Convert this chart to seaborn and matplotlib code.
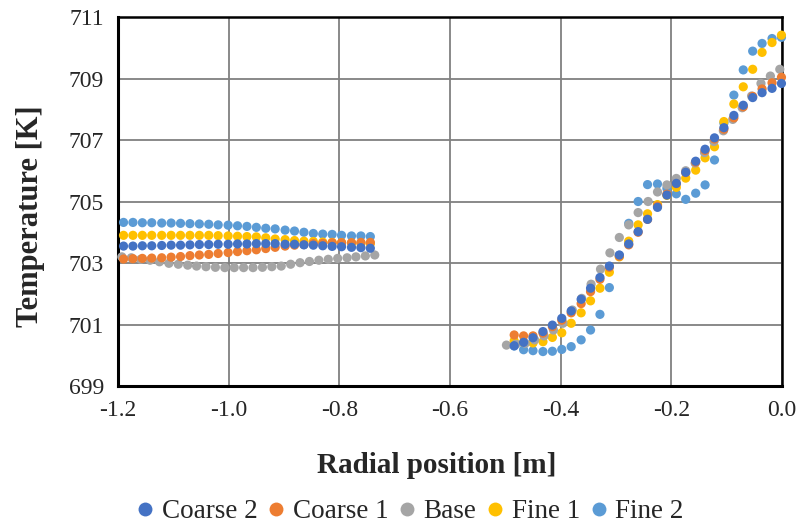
"""
Radial temperature profile for five mesh resolutions - scatter plot
"""
import pandas as pd
import matplotlib.pyplot as plt
from matplotlib.lines import Line2D
import seaborn as sns

series_names = ["Coarse 2", "Coarse 1", "Base", "Fine 1", "Fine 2"]
colors = ["#4472C4", "#ED7D31", "#A5A5A5", "#FFC000", "#5B9BD5"]

# radial positions [m] (Base mesh is sampled at slightly different points)
x_left = [-1.190, -1.173, -1.156, -1.139, -1.121, -1.104, -1.087, -1.070, -1.053,
          -1.036, -1.019, -1.001, -0.984, -0.967, -0.950, -0.933, -0.916, -0.898,
          -0.881, -0.864, -0.847, -0.830, -0.813, -0.796, -0.778, -0.761, -0.744]
x_left_base = [-1.193, -1.176, -1.159, -1.142, -1.125, -1.108, -1.091, -1.074, -1.058,
               -1.041, -1.024, -1.007, -0.990, -0.973, -0.956, -0.939, -0.922, -0.905,
               -0.888, -0.871, -0.854, -0.837, -0.820, -0.803, -0.786, -0.770, -0.753,
               -0.736]
x_right = [-0.484, -0.467, -0.450, -0.432, -0.415, -0.398, -0.381, -0.363, -0.346,
           -0.329, -0.312, -0.294, -0.277, -0.260, -0.243, -0.225, -0.208, -0.191,
           -0.174, -0.156, -0.139, -0.122, -0.105, -0.087, -0.070, -0.053, -0.036,
           -0.018, -0.001]
x_right_base = [-0.498, -0.481, -0.464, -0.447, -0.430, -0.413, -0.396, -0.379, -0.362,
                -0.345, -0.328, -0.311, -0.294, -0.277, -0.260, -0.242, -0.225, -0.208,
                -0.191, -0.174, -0.157, -0.140, -0.123, -0.106, -0.089, -0.072, -0.055,
                -0.038, -0.021, -0.004]

# temperatures [K]
coarse2_left = [703.55, 703.55, 703.56, 703.56, 703.57, 703.58, 703.58, 703.59, 703.60,
                703.60, 703.61, 703.61, 703.62, 703.62, 703.63, 703.63, 703.63, 703.61,
                703.61, 703.59, 703.58, 703.56, 703.54, 703.53, 703.51, 703.50, 703.48]
coarse2_right = [700.31, 700.42, 700.57, 700.77, 700.98, 701.20, 701.44, 701.82, 702.18,
                 702.53, 702.90, 703.26, 703.62, 704.02, 704.42, 704.81, 705.21, 705.59,
                 705.95, 706.31, 706.70, 707.07, 707.40, 707.80, 708.13, 708.38, 708.54,
                 708.68, 708.84]

coarse1_left = [703.13, 703.14, 703.15, 703.16, 703.17, 703.19, 703.21, 703.24, 703.26,
                703.28, 703.31, 703.34, 703.37, 703.40, 703.43, 703.47, 703.51, 703.55,
                703.58, 703.60, 703.63, 703.64, 703.66, 703.66, 703.66, 703.67, 703.67]
coarse1_right = [700.66, 700.63, 700.63, 700.72, 700.93, 701.14, 701.38, 701.68, 702.07,
                 702.47, 702.86, 703.22, 703.59, 704.00, 704.42, 704.85, 705.24, 705.58,
                 705.94, 706.28, 706.66, 707.03, 707.35, 707.72, 708.08, 708.42, 708.66,
                 708.86, 709.04]

base_left = [703.20, 703.17, 703.12, 703.09, 703.04, 702.99, 702.96, 702.93, 702.90,
             702.88, 702.86, 702.85, 702.85, 702.85, 702.85, 702.86, 702.88, 702.90,
             702.96, 703.01, 703.05, 703.09, 703.12, 703.15, 703.17, 703.20, 703.23,
             703.26]
base_right = [700.33, 700.36, 700.39, 700.50, 700.63, 700.82, 701.04, 701.47, 701.85,
              702.31, 702.80, 703.33, 703.83, 704.24, 704.64, 705.00, 705.31, 705.54,
              705.75, 706.00, 706.25, 706.59, 706.95, 707.30, 707.67, 708.05, 708.43,
              708.84, 709.08, 709.30]

fine1_left = [703.90, 703.90, 703.90, 703.90, 703.90, 703.90, 703.90, 703.90, 703.90,
              703.90, 703.89, 703.88, 703.87, 703.86, 703.85, 703.82, 703.78, 703.76,
              703.73, 703.71, 703.70, 703.68, 703.67, 703.66, 703.65, 703.64, 703.63]
fine1_right = [700.47, 700.42, 700.40, 700.44, 700.58, 700.73, 701.04, 701.38, 701.77,
               702.18, 702.70, 703.20, 703.71, 704.24, 704.60, 704.90, 705.20, 705.46,
               705.76, 706.02, 706.42, 706.78, 707.60, 708.17, 708.73, 709.30, 709.85,
               710.17, 710.41]

fine2_left = [704.32, 704.32, 704.31, 704.31, 704.30, 704.30, 704.29, 704.28, 704.27,
              704.26, 704.24, 704.23, 704.21, 704.19, 704.16, 704.13, 704.11, 704.07,
              704.04, 704.00, 703.96, 703.94, 703.93, 703.90, 703.88, 703.88, 703.86]
fine2_right = [700.30, 700.18, 700.15, 700.12, 700.13, 700.19, 700.28, 700.50, 700.82,
               701.33, 702.20, 703.25, 704.29, 705.00, 705.55, 705.57, 705.43, 705.25,
               705.07, 705.27, 705.54, 706.35, 707.55, 708.46, 709.28, 709.89, 710.14,
               710.30, 710.34]

x_ticks = [-1.2, -1.0, -0.8, -0.6, -0.4, -0.2, 0.0]
x_tick_labels = ["-1.2", "-1.0", "-0.8", "-0.6", "-0.4", "-0.2", "0.0"]
y_ticks = [699, 701, 703, 705, 707, 709, 711]

series_data = {
    "Coarse 2": (x_left + x_right, coarse2_left + coarse2_right),
    "Coarse 1": (x_left + x_right, coarse1_left + coarse1_right),
    "Base": (x_left_base + x_right_base, base_left + base_right),
    "Fine 1": (x_left + x_right, fine1_left + fine1_right),
    "Fine 2": (x_left + x_right, fine2_left + fine2_right),
}

# Fine 2 first so that Coarse 2 ends up drawn on top
frames = []
for name in reversed(series_names):
    xs, ys = series_data[name]
    frames.append(pd.DataFrame({"x": xs, "T": ys, "series": name}))
df = pd.concat(frames, ignore_index=True)

sns.set_style("white")
plt.rcParams["font.family"] = ["Liberation Serif", "DejaVu Serif"]

fig = plt.figure(figsize=(8, 5.3), dpi=100)
ax = fig.add_axes([0.1475, 0.2717, 0.83, 0.6962])

sns.scatterplot(data=df, x="x", y="T", hue="series", hue_order=series_names,
                palette=colors, s=44, linewidth=0, ax=ax, clip_on=False, zorder=3,
                legend=False)

ax.set_xlim(-1.2, 0.0)
ax.set_ylim(699, 711)
ax.set_xticks(x_ticks)
ax.set_xticklabels(x_tick_labels)
ax.set_yticks(y_ticks)
ax.tick_params(axis="both", direction="out", length=7, width=1.5, color="black",
               labelsize=17, pad=3)

ax.grid(True, color="#808080", linewidth=1.3)
ax.set_axisbelow(True)
for side in ["left", "bottom"]:
    ax.spines[side].set_color("black")
    ax.spines[side].set_linewidth(2.2)
for side in ["top", "right"]:
    ax.spines[side].set_color("black")
    ax.spines[side].set_linewidth(1.8)

ax.set_xlabel("Radial position [m]", fontsize=21, fontweight="bold")
ax.set_ylabel("Temperature [K]", fontsize=22, fontweight="bold")
ax.xaxis.set_label_coords(0.48, -0.18)
ax.yaxis.set_label_coords(-0.11, 0.46)

handles = [Line2D([], [], linestyle="none", marker="o", markersize=10,
                  markerfacecolor=c, markeredgewidth=0) for c in colors]
fig.legend(handles, series_names, loc="center", bbox_to_anchor=(0.513, 0.034),
           ncol=5, frameon=False, fontsize=19.5, handlelength=0.6,
           handletextpad=0.3, columnspacing=0.4, borderpad=0.1)

plt.savefig("out.png", dpi=100)
plt.close()
